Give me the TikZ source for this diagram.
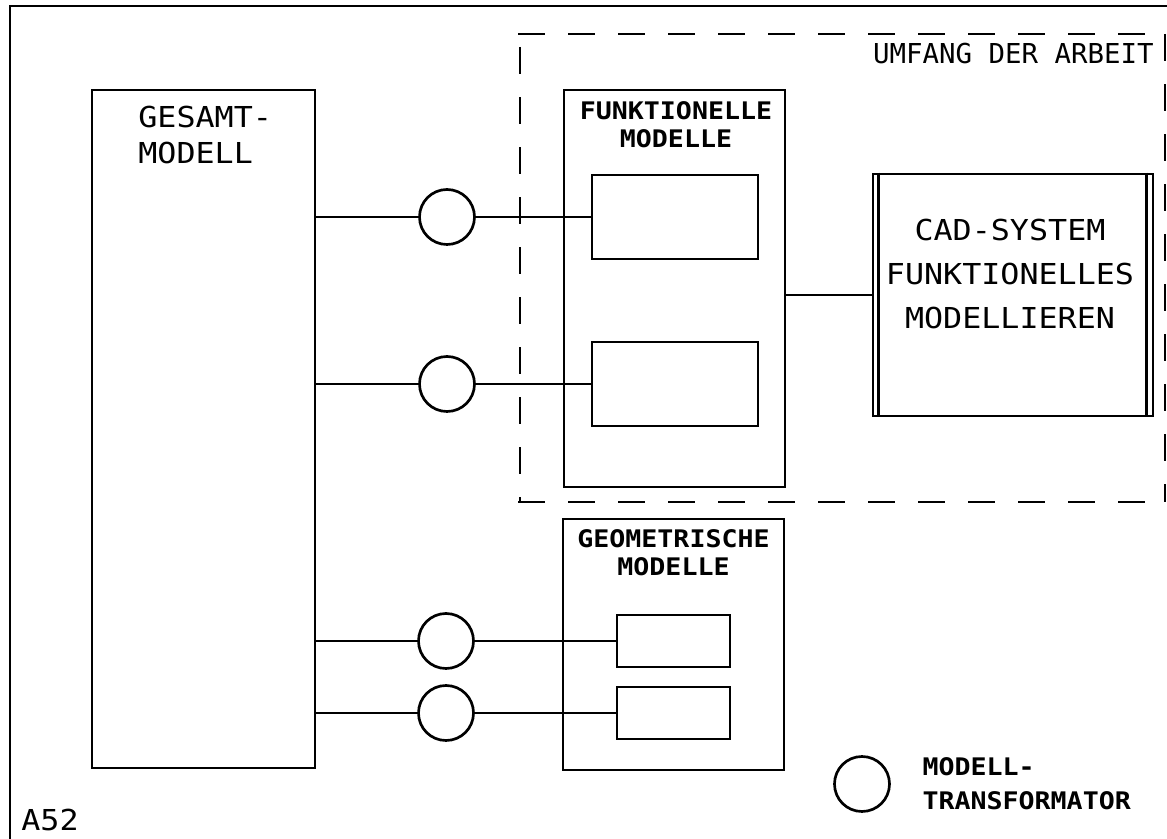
\documentclass[tikz,border=0pt]{standalone}
\usepackage{fontspec}
\usepackage{tikz}
\usetikzlibrary{positioning,calc}
\newfontfamily\plotfont[FakeStretch=1.1]{DejaVu Sans Mono}
\newfontfamily\plotnarrow{DejaVu Sans Mono}

\begin{document}
\begin{tikzpicture}[x=0.025cm,y=-0.025cm,line width=1.9pt,
box/.style={rectangle,draw,inner sep=0pt},
trafo/.style={circle,draw,inner sep=0pt,minimum size=1.375cm},
bigtext/.style={font=\plotfont\fontsize{20.5}{31}\selectfont,inner sep=0pt},
smalltext/.style={font=\plotfont\bfseries\fontsize{17.2}{20}\selectfont,inner sep=0pt,align=center},
umfang/.style={dash pattern=on 0.675cm off 0.575cm}]
\useasboundingbox (0,0) rectangle (1167,839);
\draw[line width=1.5pt] (1167,6) -- (10,6) -- (10,839);
% scope of the work
\draw[umfang] (518,34) -- (1167,34);
\draw[umfang] (518,502) -- (1167,502);
\draw[umfang] (520,47) -- (520,502);
\draw[umfang] (1165,34) -- (1165,502);
\node[font=\plotnarrow\fontsize{19.5}{24}\selectfont,inner sep=0pt,anchor=east] (umfangtxt) at (1155,54) {UMFANG DER ARBEIT};
% overall model
\node[box,minimum width=5.575cm,minimum height=16.95cm] (gesamt) at (203.5,429) {};
\node[bigtext,font=\plotfont\fontsize{20.5}{25.6}\selectfont,align=left,anchor=west] (gesamttxt) at (137,135) {GESAMT-\\MODELL};
% functional models
\node[box,minimum width=5.525cm,minimum height=9.925cm] (funkt) at (674.5,288.5) {};
\node[smalltext] (funkttxt) at (676,125) {FUNKTIONELLE\\MODELLE};
\node[box,minimum width=4.15cm,minimum height=2.1cm] (fm1) at (675,217) {};
\node[box,minimum width=4.15cm,minimum height=2.1cm] (fm2) at (675,384) {};
% geometric models
\node[box,minimum width=5.525cm,minimum height=6.275cm] (geo) at (673.5,644.5) {};
\node[smalltext] (geotxt) at (673.5,553) {GEOMETRISCHE\\MODELLE};
\node[box,minimum width=2.825cm,minimum height=1.3cm] (gm1) at (673.5,641) {};
\node[box,minimum width=2.825cm,minimum height=1.3cm] (gm2) at (673.5,713) {};
% transformers
\node[trafo] (t1) at (447,217) {};
\node[trafo] (t2) at (447,384) {};
\node[trafo] (t3) at (446,641) {};
\node[trafo] (t4) at (446,713) {};
\draw (gesamt.east |- t1) -- (t1) -- (fm1);
\draw (gesamt.east |- t2) -- (t2) -- (fm2);
\draw (gesamt.east |- t3) -- (t3) -- (gm1);
\draw (gesamt.east |- t4) -- (t4) -- (gm2);
% CAD system
\node[box,minimum width=7cm,minimum height=6.05cm] (cad) at (1013,295) {};
\draw ($(cad.north west)+(7,0)$) -- ($(cad.south west)+(7,0)$);
\draw ($(cad.north east)+(-8,0)$) -- ($(cad.south east)+(-8,0)$);
\node[bigtext,align=center] (cadtxt) at (1010,274) {CAD-SYSTEM\\FUNKTIONELLES\\MODELLIEREN};
\draw (funkt.east |- cad.west) -- (cad.west);
% legend
\node[trafo] (legcirc) at (862,784) {};
\node[smalltext,font=\plotfont\bfseries\fontsize{17.2}{24}\selectfont,align=left,right=0.76cm of legcirc] (legtxt) {MODELL-\\TRANSFORMATOR};
\node[bigtext,anchor=west] (nr) at (20,820) {A52};
\end{tikzpicture}
\end{document}
